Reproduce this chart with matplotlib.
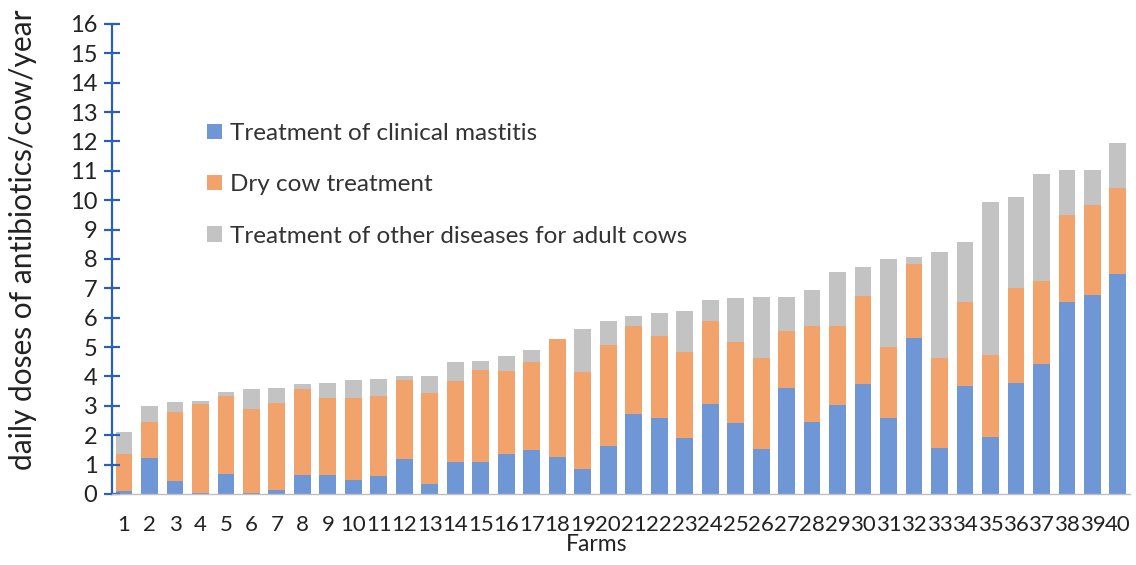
import numpy as np
import matplotlib
matplotlib.use("Agg")
import matplotlib.pyplot as plt

plt.rcParams['font.family'] = ['Lato', 'DejaVu Sans']

farms = [str(i) for i in range(1, 41)]

mastitis = [0.10, 1.24, 0.45, 0.02, 0.68, 0.05, 0.14, 0.66, 0.66, 0.49,
            0.62, 1.19, 0.34, 1.10, 1.10, 1.36, 1.50, 1.27, 0.84, 1.62,
            2.71, 2.59, 1.92, 3.05, 2.42, 1.53, 3.60, 2.45, 3.02, 3.75,
            2.60, 5.32, 1.57, 3.69, 1.94, 3.77, 4.43, 6.55, 6.77, 7.50]
dry_top = [1.37, 2.44, 2.78, 3.05, 3.32, 2.90, 3.08, 3.57, 3.26, 3.26,
           3.34, 3.87, 3.44, 3.83, 4.23, 4.17, 4.48, 5.28, 4.14, 5.06,
           5.72, 5.37, 4.83, 5.89, 5.18, 4.63, 5.54, 5.72, 5.72, 6.75,
           5.01, 7.84, 4.63, 6.52, 4.74, 7.00, 7.26, 9.48, 9.83, 10.40]
total = [2.10, 2.99, 3.13, 3.17, 3.48, 3.57, 3.61, 3.75, 3.78, 3.87,
         3.92, 4.00, 4.00, 4.48, 4.54, 4.71, 4.91, 5.28, 5.62, 5.89,
         6.06, 6.15, 6.23, 6.61, 6.68, 6.72, 6.72, 6.94, 7.55, 7.72,
         7.99, 8.07, 8.24, 8.58, 9.94, 10.12, 10.90, 11.03, 11.03, 11.95]

dry_cow = [d - m for d, m in zip(dry_top, mastitis)]
other = [t - d for t, d in zip(total, dry_top)]

labels = ["Treatment of clinical mastitis", "Dry cow treatment",
          "Treatment of other diseases for adult cows"]
colors = ["#6F97D6", "#F2A26B", "#C3C3C3"]

fig = plt.figure(figsize=(11.36, 5.65), dpi=100)
ax = fig.add_axes([0.0986, 0.1257, 0.896, 0.832])

x = np.arange(1, 41)
w = 0.66
ax.bar(x, mastitis, w, color=colors[0], label=labels[0])
ax.bar(x, dry_cow, w, bottom=mastitis, color=colors[1], label=labels[1])
ax.bar(x, other, w, bottom=dry_top, color=colors[2], label=labels[2])

ax.set_xlim(0.53, 40.47)
ax.set_ylim(0, 16)
ax.set_yticks(range(0, 17))
ax.set_xticks(x)
ax.set_xticklabels(farms)

for s in ["top", "right"]:
    ax.spines[s].set_visible(False)
ax.spines["left"].set_color("#2B5FB8")
ax.spines["left"].set_linewidth(1.6)
ax.spines["bottom"].set_color("#BFBFBF")
ax.spines["bottom"].set_linewidth(1.0)

ax.tick_params(axis="y", direction="inout", length=11, width=1.6,
               color="#2B5FB8", labelsize=17, pad=5, labelcolor="#222222")
ax.tick_params(axis="x", length=0, labelsize=16, pad=15, labelcolor="#222222")

ax.set_ylabel("daily doses of antibiotics/cow/year", fontsize=21.5,
              color="#222222")
ax.yaxis.set_label_coords(-0.074, 0.54)
ax.set_xlabel("Farms", fontsize=16.5, color="#222222", labelpad=0)
ax.xaxis.set_label_coords(0.476, -0.085)

ax.legend(loc="upper left", bbox_to_anchor=(0.072, 0.836), frameon=False,
          fontsize=17.5, handlelength=0.6, handleheight=0.6,
          handletextpad=0.33, labelspacing=1.25, labelcolor="#333333")

fig.savefig("out.png", dpi=100)
